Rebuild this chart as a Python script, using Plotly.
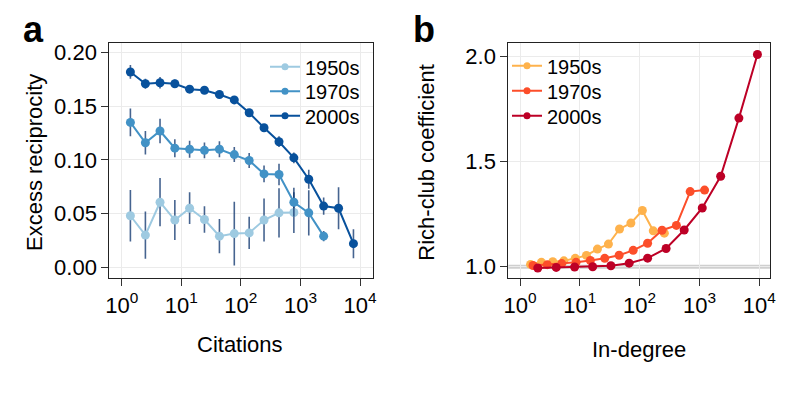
import plotly.graph_objects as go

# ---- panel a: excess reciprocity vs citations ----
citations = [1.4, 2.5, 4.4, 7.8, 13.8, 24.5, 43.7, 77.6, 138, 245, 437, 776, 1380, 2455, 4365, 7762]

recip_1950s = [0.048, 0.030, 0.0606, 0.044, 0.055, 0.0445, 0.029, 0.0314, 0.032, 0.044, 0.0507, 0.051]
err_1950s = [0.024, 0.022, 0.0225, 0.0187, 0.0148, 0.0124, 0.016, 0.0297, 0.015, 0.020, 0.023, 0.019]

recip_1970s = [0.135, 0.116, 0.127, 0.111, 0.110, 0.109, 0.110, 0.105, 0.0995, 0.087, 0.0865, 0.0606, 0.0507, 0.029]
err_1970s = [0.013, 0.011, 0.0115, 0.0084, 0.008, 0.0073, 0.0075, 0.007, 0.007, 0.0078, 0.010, 0.0135, 0.021, 0.0047]

recip_2000s = [0.182, 0.171, 0.172, 0.171, 0.166, 0.165, 0.161, 0.156, 0.144, 0.130, 0.117, 0.102, 0.082, 0.057, 0.055, 0.022]
err_2000s = [0.0064, 0.0047, 0.0054, 0.004, 0.003, 0.003, 0.003, 0.003, 0.003, 0.003, 0.005, 0.005, 0.0088, 0.008, 0.0195, 0.0135]

# ---- panel b: rich-club coefficient vs in-degree ----
indeg_1950s = [1.5, 2.28, 3.53, 5.41, 8.39, 12.9, 19.7, 30.1, 46.1, 71.4, 111, 169, 259]
rich_1950s = [1.011, 1.021, 1.024, 1.028, 1.040, 1.054, 1.084, 1.108, 1.180, 1.208, 1.268, 1.171, 1.160]

indeg_1970s = [1.65, 2.86, 4.98, 8.65, 15.0, 26.1, 45.4, 78.0, 136, 237, 412, 700, 1219]
rich_1970s = [1.006, 1.010, 1.015, 1.021, 1.030, 1.040, 1.055, 1.078, 1.112, 1.174, 1.197, 1.358, 1.365]

indeg_2000s = [1.98, 4.03, 8.18, 16.4, 33.1, 66.8, 136, 277, 556, 1114, 2265, 4571, 9333]
rich_2000s = [0.994, 0.997, 0.999, 1.000, 1.005, 1.017, 1.041, 1.087, 1.175, 1.280, 1.431, 1.708, 2.011]

decades = ["1950s", "1970s", "2000s"]
blues = ["#9ecae1", "#4292c6", "#08519c"]
reds = ["#feb24c", "#fc4e2a", "#bd0026"]

# the page body has an 8px margin, so the figure is shrunk and every
# screen position below is shifted by that offset
OFF = 8
W, H = 797 - 2 * OFF, 397 - 2 * OFF
FONT = "Liberation Sans, Arial, sans-serif"


def px_x(p):
    return (p - OFF) / W


def px_y(p):
    return 1 - (p - OFF) / H


fig = go.Figure()

panel_a = [
    (recip_1950s, err_1950s),
    (recip_1970s, err_1970s),
    (recip_2000s, err_2000s),
]
for i, (vals, errs) in enumerate(panel_a):
    fig.add_trace(go.Scatter(
        x=citations[:len(vals)], y=vals,
        mode="lines+markers",
        line=dict(color=blues[i], width=2),
        marker=dict(color=blues[i], size=9),
        error_y=dict(type="data", array=errs, color="rgba(8,48,107,0.75)",
                     thickness=1.6, width=0),
        showlegend=False, xaxis="x", yaxis="y",
    ))

panel_b = [
    (indeg_1950s, rich_1950s),
    (indeg_1970s, rich_1970s),
    (indeg_2000s, rich_2000s),
]
for i, (xs, ys) in enumerate(panel_b):
    fig.add_trace(go.Scatter(
        x=xs, y=ys,
        mode="lines+markers",
        line=dict(color=reds[i], width=2),
        marker=dict(color=reds[i], size=9),
        showlegend=False, xaxis="x2", yaxis="y2",
    ))

# one single-entry legend per row so row spacing matches
legend_rows_a = [66.7, 91.3, 115.7]
legend_rows_b = [65.7, 90.7, 115.7]
legends = {}
n = 1
for i, name in enumerate(decades):
    for colors, xa, ya, rows, left in [(blues, "x", "y", legend_rows_a, 265),
                                       (reds, "x2", "y2", legend_rows_b, 507)]:
        key = "legend" if n == 1 else f"legend{n}"
        fig.add_trace(go.Scatter(
            x=[None], y=[None], name=name,
            mode="lines+markers",
            line=dict(color=colors[i], width=2),
            marker=dict(color=colors[i], size=7),
            xaxis=xa, yaxis=ya, legend=key,
        ))
        legends[key] = dict(
            x=px_x(left), y=px_y(rows[i]), xanchor="left", yanchor="middle",
            bgcolor="rgba(0,0,0,0)", borderwidth=0, itemwidth=30,
            font=dict(size=20, family=FONT, color="#000"),
        )
        n += 1

# reference line at coefficient 1
fig.add_shape(type="line", xref="x2 domain", yref="y2", x0=0, x1=1, y0=1, y1=1,
              line=dict(color="#cfcfcf", width=4), layer="below")

exp_ticks = [1, 10, 100, 1000, 10000]
exp_text = ["10<sup>0</sup>", "10<sup>1</sup>", "10<sup>2</sup>", "10<sup>3</sup>", "10<sup>4</sup>"]

axis_common = dict(
    showline=True, mirror=True, linecolor="#222", linewidth=1,
    ticks="outside", ticklen=7, tickwidth=1, tickcolor="#333",
    showgrid=True, gridcolor="#ebebeb", gridwidth=1, zeroline=False,
    tickfont=dict(size=22, family=FONT, color="#000"), automargin=False,
)

fig.update_layout(
    width=W, height=H,
    margin=dict(l=0, r=0, t=0, b=0),
    paper_bgcolor="white", plot_bgcolor="white",
    font=dict(family=FONT, color="#000"),
    xaxis=dict(type="log", range=[-0.208, 4.213], domain=[px_x(109.3), px_x(372.7)],
               tickvals=exp_ticks, ticktext=exp_text, anchor="y", **axis_common),
    yaxis=dict(range=[-0.0103, 0.2093], domain=[px_y(278.3), px_y(42.7)],
               tickvals=[0, 0.05, 0.1, 0.15, 0.2],
               ticktext=["0.00", "0.05", "0.10", "0.15", "0.20"],
               anchor="x", **axis_common),
    xaxis2=dict(type="log", range=[-0.196, 4.18], domain=[px_x(508.3), px_x(770)],
                tickvals=exp_ticks, ticktext=exp_text, anchor="y2", **axis_common),
    yaxis2=dict(range=[0.945, 2.067], domain=[px_y(278.3), px_y(42.7)],
                tickvals=[1.0, 1.5, 2.0], ticktext=["1.0", "1.5", "2.0"],
                anchor="x2", **axis_common),
    **legends,
)

# panel letters hang from the top edge so their box stays inside the figure
for letter, cx in [("a", 33), ("b", 424)]:
    fig.add_annotation(text=f"<b>{letter}</b>", x=px_x(cx), y=1,
                       xref="paper", yref="paper", showarrow=False,
                       xanchor="center", yanchor="top", borderpad=0,
                       font=dict(size=36, family=FONT, color="#000"))

annotations = [
    dict(text="Excess reciprocity", x=px_x(34), y=px_y(163), textangle=-90),
    dict(text="Rich-club coefficient", x=px_x(425.7), y=px_y(163), textangle=-90),
    dict(text="Citations", x=px_x(240.3), y=px_y(344)),
    dict(text="In-degree", x=px_x(639.2), y=px_y(349.7)),
]
for a in annotations:
    fig.add_annotation(xref="paper", yref="paper", showarrow=False,
                       xanchor="center", yanchor="middle",
                       font=dict(size=22, family=FONT, color="#000"), **a)

fig.write_html("out.html")
